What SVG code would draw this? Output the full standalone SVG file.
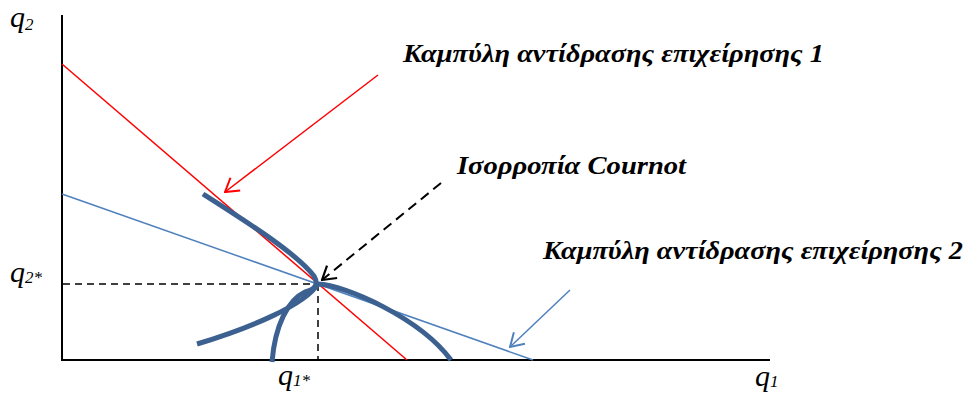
<svg xmlns="http://www.w3.org/2000/svg" width="970" height="394" viewBox="0 0 970 394">
<style>
.axis{stroke:#000;stroke-width:2;fill:none}
.guide{stroke:#000;stroke-width:1.5;stroke-dasharray:7,5;fill:none}
.red{stroke:#FF0000;stroke-width:1.5;fill:none}
.blue{stroke:#4F81BD;stroke-width:1.5;fill:none}
.curve{stroke:#3C6190;stroke-width:5;fill:none}
.title{font-family:"Liberation Serif","Times New Roman",serif;font-weight:bold;font-style:italic;font-size:25px;fill:#000}
.lbl{font-family:"Liberation Serif","Times New Roman",serif;font-style:italic;font-size:30px;fill:#000}
.sub{font-size:17px}
</style>
<defs>
<marker id="ahRed" viewBox="0 0 16 20" refX="15" refY="10" markerWidth="16" markerHeight="20" markerUnits="userSpaceOnUse" orient="auto"><path d="M2,2 L15,10 L2,18" fill="none" stroke="#FF0000" stroke-width="2"/></marker>
<marker id="ahBlack" viewBox="0 0 16 20" refX="15" refY="10" markerWidth="16" markerHeight="20" markerUnits="userSpaceOnUse" orient="auto"><path d="M2,2 L15,10 L2,18" fill="none" stroke="#000" stroke-width="2.2"/></marker>
<marker id="ahBlue" viewBox="0 0 16 20" refX="15" refY="10" markerWidth="16" markerHeight="20" markerUnits="userSpaceOnUse" orient="auto"><path d="M2,2 L15,10 L2,18" fill="none" stroke="#4F81BD" stroke-width="2"/></marker>
</defs>
<rect width="970" height="394" fill="#fff"/>
<g id="axes">
<line class="axis" x1="62" y1="15" x2="62" y2="360"/>
<line class="axis" x1="61" y1="360" x2="770" y2="360"/>
</g>
<g id="guides">
<line class="guide" x1="63" y1="284" x2="318" y2="284"/>
<line class="guide" x1="318" y1="284" x2="318" y2="359"/>
</g>
<g id="reaction-curve-1"><line class="red" x1="62" y1="64" x2="407" y2="360"/></g>
<g id="reaction-curve-2"><line class="blue" x1="62" y1="194" x2="533" y2="360"/></g>
<g id="isoprofit-1"><path class="curve" d="M203,194 C250,224 296,253 314,276 Q321,288 305,292 C288,300 275,325 272,362"/></g>
<g id="isoprofit-2"><path class="curve" d="M197,344 C250,328 305,305 318,284 C345,285 420,318 451,360"/></g>
<g id="connectors">
<line x1="378" y1="75" x2="225" y2="192" stroke="#FF0000" stroke-width="1.5" marker-end="url(#ahRed)"/>
<line x1="441" y1="183" x2="322" y2="280" stroke="#000" stroke-width="2" stroke-dasharray="10,6" marker-end="url(#ahBlack)"/>
<line x1="570" y1="290" x2="510" y2="347" stroke="#4F81BD" stroke-width="1.5" marker-end="url(#ahBlue)"/>
</g>
<g id="label-firm1"><text class="title" x="403" y="62" textLength="421" lengthAdjust="spacingAndGlyphs">Καμπύλη αντίδρασης επιχείρησης 1</text></g>
<g id="label-cournot"><text class="title" x="457" y="174" textLength="229" lengthAdjust="spacingAndGlyphs">Ισορροπία Cournot</text></g>
<g id="label-firm2"><text class="title" x="543" y="259" textLength="420" lengthAdjust="spacingAndGlyphs">Καμπύλη αντίδρασης επιχείρησης 2</text></g>
<g id="axis-labels">
<text class="lbl" x="10" y="27">q<tspan class="sub" dy="3">2</tspan></text>
<text class="lbl" x="10" y="282">q<tspan class="sub" dy="1">2*</tspan></text>
<text class="lbl" x="278" y="385">q<tspan class="sub" dy="1">1*</tspan></text>
<text class="lbl" x="755" y="386">q<tspan class="sub" dy="1">1</tspan></text>
</g>
</svg>
